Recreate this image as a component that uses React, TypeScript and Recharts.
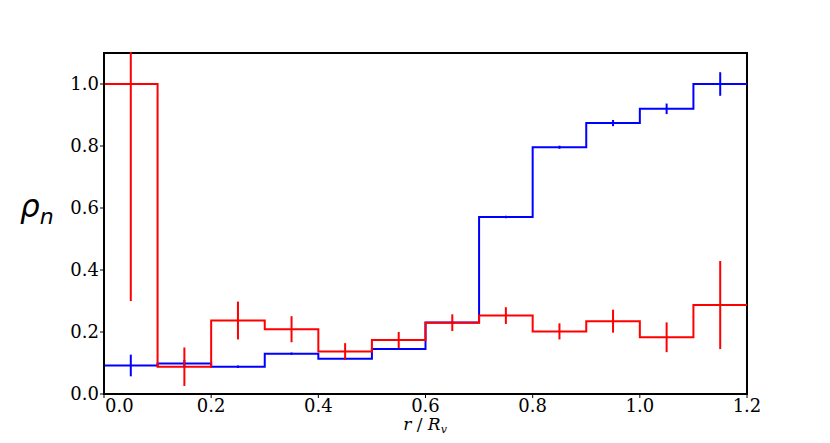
import {
  ComposedChart,
  Line,
  Scatter,
  ErrorBar,
  XAxis,
  YAxis,
  ReferenceArea,
} from "recharts";

// bin edges 0..1.2 in steps of 0.1, values per bin
const binEdges = [0, 0.1, 0.2, 0.3, 0.4, 0.5, 0.6, 0.7, 0.8, 0.9, 1.0, 1.1, 1.2];
const binCenters = [0.05, 0.15, 0.25, 0.35, 0.45, 0.55, 0.65, 0.75, 0.85, 0.95, 1.05, 1.15];

const blueValues = [0.092, 0.098, 0.088, 0.13, 0.114, 0.145, 0.231, 0.571, 0.796, 0.874, 0.92, 1.0];
const blueErrors = [0.035, 0.012, 0.004, 0.004, 0.004, 0.003, 0.003, 0.004, 0.005, 0.01, 0.017, 0.038];

const redValues = [1.0, 0.088, 0.237, 0.209, 0.137, 0.174, 0.23, 0.253, 0.202, 0.235, 0.183, 0.287];
const redErrors = [0.7, 0.062, 0.061, 0.042, 0.027, 0.026, 0.027, 0.027, 0.026, 0.037, 0.048, 0.142];

const xTicks = [0, 0.2, 0.4, 0.6, 0.8, 1.0, 1.2];
const yTicks = [0, 0.2, 0.4, 0.6, 0.8, 1.0];

const stepData = binEdges.map((x, i) => {
  const k = Math.min(i, blueValues.length - 1);
  return { x, blue: blueValues[k], red: redValues[k] };
});

const blueBars = binCenters.map((x, i) => ({ x, y: blueValues[i], err: blueErrors[i] }));
const redBars = binCenters.map((x, i) => ({ x, y: redValues[i], err: redErrors[i] }));

const FONT = "'DejaVu Serif', serif";

function XTick(props: any) {
  const { x, y, payload } = props;
  const first = payload.value === 0;
  return (
    <text
      x={first ? x + 1 : x}
      y={y}
      dy="0.71em"
      textAnchor={first ? "start" : "middle"}
      fontFamily={FONT}
      fontSize={18}
      fill="#000"
    >
      {payload.value.toFixed(1)}
    </text>
  );
}

export default function App() {
  return (
    <div style={{ position: "absolute", left: 0, top: 0, width: 830, height: 443, background: "#fff" }}>
      <ComposedChart
        width={830}
        height={443}
        data={stepData}
        margin={{ top: 53, right: 83, bottom: 19, left: 44 }}
      >
        <XAxis
          xAxisId="main"
          dataKey="x"
          type="number"
          domain={[0, 1.2]}
          ticks={xTicks}
          allowDataOverflow
          height={30}
          tick={<XTick />}
          tickSize={4}
          tickMargin={1}
          axisLine={{ stroke: "#000", strokeWidth: 2 }}
          tickLine={{ stroke: "#000" }}
        />
        <YAxis
          yAxisId="main"
          type="number"
          domain={[0, 1.1]}
          ticks={yTicks}
          allowDataOverflow
          width={60}
          tickSize={4}
          tickMargin={1}
          tickFormatter={(v: number) => v.toFixed(1)}
          tick={{ fontFamily: FONT, fontSize: 18, fill: "#000" }}
          axisLine={{ stroke: "#000", strokeWidth: 2 }}
          tickLine={{ stroke: "#000" }}
        />
        <Line
          xAxisId="main"
          yAxisId="main"
          type="stepAfter"
          dataKey="blue"
          stroke="#0000ff"
          strokeWidth={2}
          dot={false}
          isAnimationActive={false}
        />
        <Line
          xAxisId="main"
          yAxisId="main"
          type="stepAfter"
          dataKey="red"
          stroke="#ff0000"
          strokeWidth={2}
          dot={false}
          isAnimationActive={false}
        />
        <Scatter
          xAxisId="main"
          yAxisId="main"
          data={blueBars}
          dataKey="y"
          shape={() => <g />}
          isAnimationActive={false}
        >
          <ErrorBar dataKey="err" direction="y" width={0} stroke="#0000ff" strokeWidth={2} isAnimationActive={false} />
        </Scatter>
        <Scatter
          xAxisId="main"
          yAxisId="main"
          data={redBars}
          dataKey="y"
          shape={() => <g />}
          isAnimationActive={false}
        >
          <ErrorBar dataKey="err" direction="y" width={0} stroke="#ff0000" strokeWidth={2} isAnimationActive={false} />
        </Scatter>
        <ReferenceArea
          xAxisId="main"
          yAxisId="main"
          x1={0}
          x2={1.2}
          y1={0}
          y2={1.1}
          fill="none"
          fillOpacity={0}
          stroke="#000"
          strokeWidth={2}
          strokeOpacity={1}
        />
      </ComposedChart>
      {/* mask for error bars running past the top of the frame */}
      <div style={{ position: "absolute", left: 60, top: 0, width: 720, height: 52, background: "#fff" }} />
      <div
        style={{
          position: "absolute",
          left: 20,
          top: 188,
          fontFamily: "'DejaVu Sans', sans-serif",
          fontStyle: "italic",
          fontSize: 31,
          lineHeight: "36px",
          color: "#000",
        }}
      >
        ρ<sub style={{ fontSize: 22, verticalAlign: "-7px" }}>n</sub>
      </div>
      <div
        style={{
          position: "absolute",
          left: 0,
          width: 850,
          top: 414,
          textAlign: "center",
          fontFamily: FONT,
          fontSize: 17,
          lineHeight: "20px",
          color: "#000",
        }}
      >
        <i>r</i> / <i>R</i>
        <sub style={{ fontSize: 11, fontStyle: "italic", verticalAlign: "-3px" }}>v</sub>
      </div>
    </div>
  );
}
